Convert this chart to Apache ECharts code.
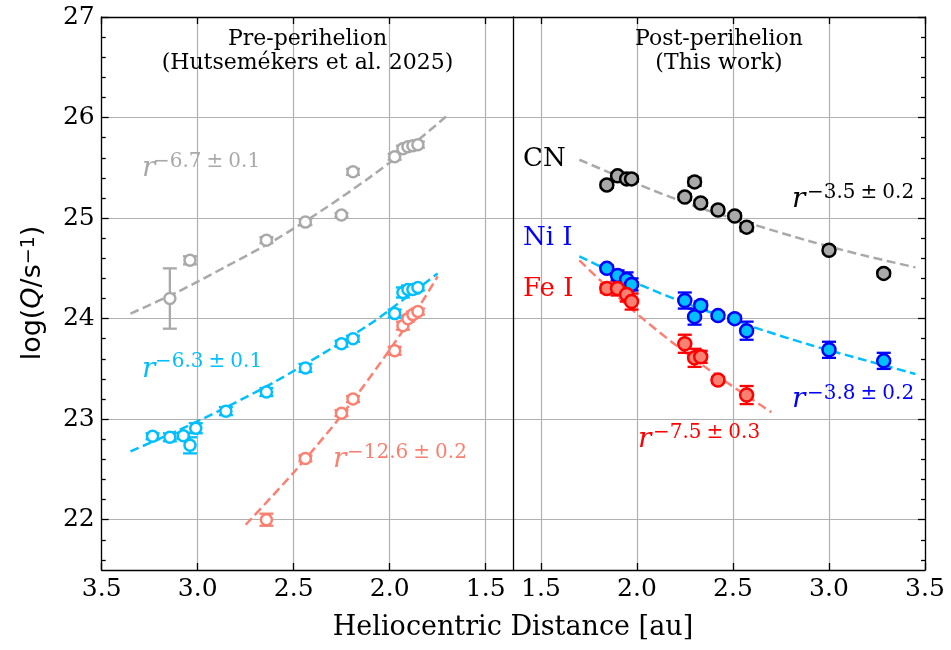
<!DOCTYPE html>
<html>
<head>
<meta charset="utf-8">
<script src="https://cdn.jsdelivr.net/npm/echarts@6/dist/echarts.min.js"></script>
<style>
html, body { margin: 0; padding: 0; background: #fff; }
#chart { width: 951px; height: 650px; }
</style>
</head>
<body>
<div id="chart"></div>
<script>
// ---- pre-perihelion (left panel, Hutsemekers et al. 2025) ----
var preCnR   = [3.145, 3.04, 2.642, 2.439, 2.251, 2.191, 1.974, 1.931, 1.905, 1.879, 1.853];
var preCnQ   = [24.20, 24.58, 24.78, 24.96, 25.03, 25.46, 25.61, 25.69, 25.71, 25.72, 25.73];
var preCnErr = [0.30, 0.04, 0.03, 0.03, 0.02, 0.03, 0.03, 0.03, 0.03, 0.03, 0.03];

var preNiR   = [3.235, 3.145, 3.075, 3.04, 3.01, 2.853, 2.642, 2.439, 2.251, 2.191, 1.974, 1.931, 1.905, 1.879, 1.853];
var preNiQ   = [22.83, 22.82, 22.835, 22.74, 22.91, 23.08, 23.27, 23.51, 23.75, 23.80, 24.05, 24.26, 24.29, 24.29, 24.31];
var preNiErr = [0.03, 0.04, 0.03, 0.08, 0.05, 0.04, 0.04, 0.04, 0.03, 0.03, 0.04, 0.05, 0.04, 0.04, 0.03];

var preFeR   = [2.642, 2.439, 2.251, 2.191, 1.974, 1.931, 1.905, 1.879, 1.853];
var preFeQ   = [22.00, 22.61, 23.06, 23.20, 23.68, 23.93, 24.00, 24.04, 24.07];
var preFeErr = [0.06, 0.03, 0.03, 0.03, 0.04, 0.04, 0.03, 0.03, 0.03];

// ---- post-perihelion (right panel, this work) ----
var postCnR   = [1.843, 1.899, 1.946, 1.972, 2.249, 2.30, 2.332, 2.422, 2.509, 2.571, 3.0, 3.285];
var postCnQ   = [25.33, 25.42, 25.39, 25.39, 25.21, 25.36, 25.15, 25.08, 25.02, 24.91, 24.68, 24.45];
var postCnErr = [0.03, 0.03, 0.03, 0.03, 0.03, 0.04, 0.03, 0.03, 0.03, 0.04, 0.03, 0.03];

var postNiR   = [1.843, 1.899, 1.946, 1.972, 2.249, 2.30, 2.332, 2.422, 2.509, 2.571, 3.0, 3.285];
var postNiQ   = [24.50, 24.43, 24.39, 24.34, 24.18, 24.02, 24.13, 24.03, 24.00, 23.88, 23.69, 23.58];
var postNiErr = [0.03, 0.05, 0.07, 0.06, 0.08, 0.08, 0.04, 0.03, 0.03, 0.09, 0.08, 0.08];

var postFeR   = [1.843, 1.899, 1.946, 1.972, 2.249, 2.30, 2.332, 2.422, 2.571];
var postFeQ   = [24.30, 24.30, 24.24, 24.17, 23.75, 23.61, 23.62, 23.39, 23.24];
var postFeErr = [0.04, 0.07, 0.07, 0.08, 0.09, 0.09, 0.06, 0.03, 0.09];

// ---- fitted power laws ----
var fitPreCnR  = [3.35, 3.10, 2.85, 2.60, 2.35, 2.10, 1.90, 1.70];
var fitPreCnQ  = [24.05, 24.27, 24.52, 24.78, 25.08, 25.41, 25.70, 26.02];
var fitPreNiR  = [3.35, 3.10, 2.85, 2.60, 2.35, 2.10, 1.90, 1.75];
var fitPreNiQ  = [22.68, 22.89, 23.12, 23.37, 23.65, 23.95, 24.23, 24.45];
var fitPreFeR  = [2.75, 2.50, 2.25, 2.00, 1.85, 1.75];
var fitPreFeQ  = [21.95, 22.47, 23.04, 23.69, 24.11, 24.42];
var fitPostCnR = [1.70, 2.00, 2.30, 2.60, 2.90, 3.20, 3.45];
var fitPostCnQ = [25.58, 25.34, 25.12, 24.94, 24.77, 24.62, 24.51];
var fitPostNiR = [1.70, 2.00, 2.30, 2.60, 2.90, 3.20, 3.45];
var fitPostNiQ = [24.62, 24.35, 24.12, 23.92, 23.74, 23.58, 23.45];
var fitPostFeR = [1.70, 1.95, 2.20, 2.45, 2.70];
var fitPostFeQ = [24.58, 24.13, 23.74, 23.39, 23.07];

// ---- axes ----
var xTicks = [1.5, 2.0, 2.5, 3.0, 3.5];
var yTicks = [22, 23, 24, 25, 26, 27];
var yMinor = [21.6, 21.8, 22.2, 22.4, 22.6, 22.8, 23.2, 23.4, 23.6, 23.8, 24.2, 24.4,
              24.6, 24.8, 25.2, 25.4, 25.6, 25.8, 26.2, 26.4, 26.6, 26.8];
var xMin = 1.356, xMax = 3.5, yMin = 21.5, yMax = 27;

var serif = 'DejaVu Serif';
var gray = '#a9a9a9', sky = '#00bfff', salmon = '#fa8072';
var sp = '\u2005';

function zip(a, b, c) {
    var out = [];
    for (var i = 0; i < a.length; i++) {
        out.push(c ? [a[i], b[i], c[i]] : [a[i], b[i]]);
    }
    return out;
}

function xAx(grid, pos, labels) {
    return {
        type: 'value', gridIndex: grid, position: pos, min: xMin, max: xMax, inverse: grid === 0,
        axisLine: {show: true, onZero: false, lineStyle: {color: '#000', width: 1.3}},
        axisTick: {show: true, inside: true, length: 7, customValues: xTicks, lineStyle: {color: '#000', width: 1.3}},
        axisLabel: {
            show: labels, customValues: xTicks, margin: 7,
            fontFamily: serif, fontSize: 25, color: '#000',
            formatter: function (v) { return v.toFixed(1); }
        },
        splitLine: {show: labels, lineStyle: {color: '#b0b0b0', width: 1.2}}
    };
}

function yAx(grid, pos, o) {
    return {
        type: 'value', gridIndex: grid, position: pos, min: yMin, max: yMax,
        axisLine: {show: o.line, onZero: false, lineStyle: {color: '#000', width: 1.3}},
        axisTick: {show: !!o.ticks, inside: true, length: o.len || 7, customValues: o.ticks,
                   lineStyle: {color: '#000', width: 1.3}},
        axisLabel: {show: !!o.labels, customValues: yTicks, margin: 7,
                    fontFamily: serif, fontSize: 25, color: '#000'},
        splitLine: {show: !!o.split, lineStyle: {color: '#b0b0b0', width: 1.2}}
    };
}

function errBars(color) {
    return function (params, api) {
        var x = api.value(0), y = api.value(1), e = api.value(2);
        var top = api.coord([x, y + e]), bot = api.coord([x, y - e]);
        var w = 7, st = {stroke: color, lineWidth: 2.3};
        return {
            type: 'group', children: [
                {type: 'line', shape: {x1: top[0], y1: top[1], x2: bot[0], y2: bot[1]}, style: st},
                {type: 'line', shape: {x1: top[0] - w, y1: top[1], x2: top[0] + w, y2: top[1]}, style: st},
                {type: 'line', shape: {x1: bot[0] - w, y1: bot[1], x2: bot[0] + w, y2: bot[1]}, style: st}
            ]
        };
    };
}

function points(xi, yi, r, q, err, edge, fill, size) {
    return [
        {
            type: 'custom', xAxisIndex: xi, yAxisIndex: yi, renderItem: errBars(edge),
            data: zip(r, q, err), encode: {x: 0, y: 1}, z: 3, silent: true
        },
        {
            type: 'scatter', xAxisIndex: xi, yAxisIndex: yi, data: zip(r, q),
            symbol: 'circle', symbolSize: size, z: 4, silent: true,
            itemStyle: {color: fill, borderColor: edge, borderWidth: 2.5, opacity: 1}
        }
    ];
}

function fit(xi, yi, r, q, color) {
    return {
        type: 'line', xAxisIndex: xi, yAxisIndex: yi, data: zip(r, q),
        showSymbol: false, smooth: 0.3, z: 2, silent: true,
        lineStyle: {color: color, width: 2.5, type: [9, 4.5]}
    };
}

function txt(x, y, text, color, size, opts) {
    opts = opts || {};
    return {
        type: 'text', x: x, y: y, z: 10, silent: true,
        style: {
            text: text, fill: color,
            font: (opts.italic ? 'italic ' : '') + size + 'px "' + serif + '"',
            textAlign: opts.align || 'left', textVerticalAlign: 'middle'
        }
    };
}

function sup(a, b) {
    return '\u2212' + a + sp + '\u00b1' + sp + b;
}

var series = [].concat(
    fit(0, 0, fitPreCnR, fitPreCnQ, gray),
    fit(0, 0, fitPreNiR, fitPreNiQ, sky),
    fit(0, 0, fitPreFeR, fitPreFeQ, salmon),
    points(0, 0, preCnR, preCnQ, preCnErr, gray, '#fff', 11),
    points(0, 0, preNiR, preNiQ, preNiErr, sky, '#fff', 11),
    points(0, 0, preFeR, preFeQ, preFeErr, salmon, '#fff', 11),
    fit(2, 2, fitPostCnR, fitPostCnQ, gray),
    fit(2, 2, fitPostNiR, fitPostNiQ, sky),
    fit(2, 2, fitPostFeR, fitPostFeQ, salmon),
    points(2, 2, postCnR, postCnQ, postCnErr, '#000', gray, 13),
    points(2, 2, postNiR, postNiQ, postNiErr, '#0000ff', sky, 13),
    points(2, 2, postFeR, postFeQ, postFeErr, '#ff0000', salmon, 13)
);

var chart = echarts.init(document.getElementById('chart'));
chart.setOption({
    backgroundColor: '#fff',
    animation: false,
    grid: [
        {left: 101.7, top: 17, width: 411.6, height: 553, outerBoundsMode: 'none', containLabel: false},
        {left: 513.3, top: 17, width: 411.7, height: 553, outerBoundsMode: 'none', containLabel: false}
    ],
    xAxis: [
        xAx(0, 'bottom', true),
        xAx(0, 'top', false),
        xAx(1, 'bottom', true),
        xAx(1, 'top', false)
    ],
    yAxis: [
        yAx(0, 'left', {line: true, ticks: yTicks, labels: true, split: true}),
        yAx(0, 'left', {line: false, ticks: yMinor, len: 4}),
        yAx(1, 'left', {line: true, split: true}),
        yAx(1, 'right', {line: true, ticks: yTicks}),
        yAx(1, 'right', {line: false, ticks: yMinor, len: 4})
    ],
    series: series,
    graphic: [
        txt(307.5, 39, 'Pre-perihelion', '#000', 22, {align: 'center'}),
        txt(307.5, 63, '(Hutsemékers et al. 2025)', '#000', 22, {align: 'center'}),
        txt(719, 39, 'Post-perihelion', '#000', 22, {align: 'center'}),
        txt(719, 63, '(This work)', '#000', 22, {align: 'center'}),

        txt(523, 159, 'CN', '#000', 26),
        txt(523, 238, 'Ni I', '#0000ff', 26),
        txt(523, 289, 'Fe I', '#ff0000', 26),

        txt(142, 169, 'r', gray, 28, {italic: true}),
        txt(153, 162, sup('6.7', '0.1'), gray, 20),
        txt(142, 370, 'r', sky, 28, {italic: true}),
        txt(155, 362, sup('6.3', '0.1'), sky, 20),
        txt(333, 460, 'r', salmon, 28, {italic: true}),
        txt(347, 453, sup('12.6', '0.2'), salmon, 20),
        txt(792, 200, 'r', '#000', 28, {italic: true}),
        txt(807, 192.5, sup('3.5', '0.2'), '#000', 20),
        txt(792, 400, 'r', '#0000ff', 28, {italic: true}),
        txt(807, 393.5, sup('3.8', '0.2'), '#0000ff', 20),
        txt(638, 440, 'r', '#ff0000', 28, {italic: true}),
        txt(653, 433, sup('7.5', '0.3'), '#ff0000', 20),

        txt(513, 628, 'Heliocentric Distance [au]', '#000', 27, {align: 'center'}),
        {
            type: 'text', x: 33, y: 293, rotation: Math.PI / 2, silent: true,
            style: {
                text: 'log({q|Q}/s{s|\u22121})',
                font: '27px "DejaVu Sans"', fill: '#000',
                textAlign: 'center', textVerticalAlign: 'middle',
                rich: {
                    q: {fontFamily: 'DejaVu Sans', fontSize: 27, fontStyle: 'italic'},
                    s: {fontFamily: 'DejaVu Sans', fontSize: 19, verticalAlign: 'top', lineHeight: 19}
                }
            }
        }
    ]
});
</script>
</body>
</html>
